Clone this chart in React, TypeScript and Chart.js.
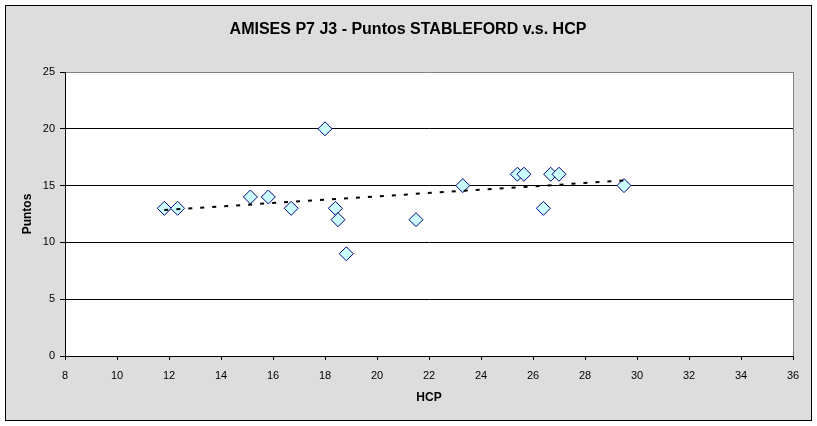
import React, { useEffect, useRef } from "react";
import { Chart, registerables } from "chart.js";

Chart.register(...registerables);

const TITLE = "AMISES P7 J3 - Puntos STABLEFORD v.s. HCP";
const X_TITLE = "HCP";
const Y_TITLE = "Puntos";

const hcp = [11.82, 12.33, 15.13, 15.82, 16.7, 18.0, 18.4, 18.5, 18.82, 21.5, 23.3, 25.4, 25.65, 26.4, 26.68, 27.0, 29.5];
const puntos = [13, 13, 14, 14, 13, 20, 13, 12, 9, 12, 15, 16, 16, 13, 16, 16, 15];

const trendX = [11.82, 29.5];
const trendY = [12.85, 15.45];

const X_MIN = 8;
const X_MAX = 36;
const X_STEP = 2;
const Y_MIN = 0;
const Y_MAX = 25;
const Y_STEP = 5;

const FONT = "Arial, 'Liberation Sans', sans-serif";

const framePlugin = {
  id: "frame",
  beforeDraw(chart: any) {
    const { ctx, chartArea } = chart;
    ctx.save();
    ctx.fillStyle = "#ffffff";
    ctx.fillRect(0, 0, chart.width, chart.height);
    ctx.fillStyle = "#dddddd";
    ctx.fillRect(5, 5, 806, 415);
    ctx.strokeStyle = "#000000";
    ctx.lineWidth = 1;
    ctx.strokeRect(5.5, 5.5, 806, 415);
    ctx.fillStyle = "#ffffff";
    ctx.fillRect(chartArea.left, chartArea.top, chartArea.right - chartArea.left, chartArea.bottom - chartArea.top);
    ctx.restore();
  },
  afterDraw(chart: any) {
    const { ctx, chartArea } = chart;
    ctx.save();
    ctx.strokeStyle = "#808080";
    ctx.lineWidth = 1;
    ctx.beginPath();
    const rx = Math.round(chartArea.right) + 0.5;
    ctx.moveTo(rx, chartArea.top);
    ctx.lineTo(rx, chartArea.bottom);
    ctx.stroke();

    ctx.fillStyle = "#000000";
    ctx.textAlign = "center";
    ctx.textBaseline = "middle";
    ctx.font = `bold 16px ${FONT}`;
    ctx.fillText(TITLE, 408, 30);

    ctx.font = `bold 12px ${FONT}`;
    ctx.fillText(X_TITLE, (chartArea.left + chartArea.right) / 2, 398);

    ctx.translate(28, (chartArea.top + chartArea.bottom) / 2);
    ctx.rotate(-Math.PI / 2);
    ctx.fillText(Y_TITLE, 0, 0);
    ctx.restore();
  },
};

export default function App() {
  const ref = useRef<HTMLCanvasElement | null>(null);

  useEffect(() => {
    if (!ref.current) return;
    const chart = new Chart(ref.current, {
      type: "scatter",
      data: {
        datasets: [
          {
            type: "line",
            data: trendX.map((x, i) => ({ x, y: trendY[i] })),
            borderColor: "#000000",
            borderWidth: 2,
            borderDash: [4, 8],
            pointRadius: 0,
            fill: false,
            order: 0,
          } as any,
          {
            type: "scatter",
            data: hcp.map((x, i) => ({ x, y: puntos[i] })),
            pointStyle: "rectRot",
            pointRadius: 7,
            backgroundColor: "#ccffff",
            borderColor: "#000080",
            borderWidth: 1,
            order: 1,
          } as any,
        ],
      },
      options: {
        responsive: false,
        animation: false,
        layout: { padding: { top: 72, right: 24, left: 0, bottom: 0 } },
        plugins: {
          legend: { display: false },
          tooltip: { enabled: false },
          title: { display: false },
        },
        scales: {
          x: {
            type: "linear",
            min: X_MIN,
            max: X_MAX,
            afterFit: (s: any) => {
              s.height = 70;
            },
            ticks: {
              stepSize: X_STEP,
              color: "#000000",
              font: { family: FONT, size: 11 },
              padding: 9,
              maxRotation: 0,
            },
            grid: {
              drawOnChartArea: false,
              drawTicks: true,
              tickLength: 4,
              tickColor: "#000000",
            },
            border: { display: true, color: "#000000", width: 1 },
          },
          y: {
            type: "linear",
            min: Y_MIN,
            max: Y_MAX,
            afterFit: (s: any) => {
              s.width = 65;
            },
            ticks: {
              stepSize: Y_STEP,
              color: "#000000",
              font: { family: FONT, size: 11 },
              padding: 5,
            },
            grid: {
              color: (c: any) => (c.tick && c.tick.value === Y_MAX ? "#808080" : "#000000"),
              lineWidth: 1,
              tickLength: 5,
              tickColor: "#000000",
            },
            border: { display: true, color: "#000000", width: 1 },
          },
        },
      } as any,
      plugins: [framePlugin],
    });
    return () => chart.destroy();
  }, []);

  return (
    <div style={{ position: "fixed", left: 0, top: 0, width: 817, height: 426 }}>
      <canvas ref={ref} width={817} height={426} style={{ display: "block", width: 817, height: 426 }} />
    </div>
  );
}
